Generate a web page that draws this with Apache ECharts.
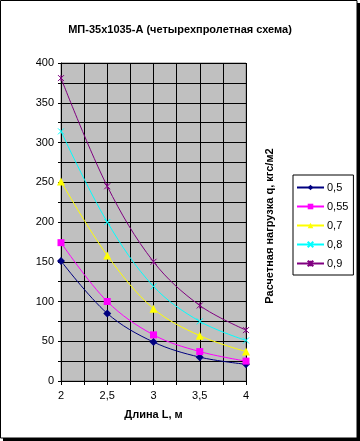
<!DOCTYPE html>
<html>
<head>
<meta charset="utf-8">
<script src="https://cdn.jsdelivr.net/npm/echarts@6/dist/echarts.min.js"></script>
<style>
html,body{margin:0;padding:0;background:#fff;}
#c{width:360px;height:441px;}
</style>
</head>
<body>
<div id="c"></div>
<script>
var titleText = 'МП-35х1035-А (четырехпролетная схема)';
var xTitle = 'Длина L, м';
var yTitle = 'Расчетная нагрузка q, кгс/м2';
var xValues = [2, 2.5, 3, 3.5, 4];
var xTickLabels = ['2', '2,5', '3', '3,5', '4'];
var seriesNames = ['0,5', '0,55', '0,7', '0,8', '0,9'];
var s05 = [151, 85, 49, 30, 21];
var s055 = [174, 100, 58, 37, 25];
var s07 = [251, 158, 91, 57, 37];
var s08 = [314, 200, 119, 75, 51];
var s09 = [381, 245, 150, 95, 64];

var allSeries = [s05, s055, s07, s08, s09];
var colors = ['#000080', '#FF00FF', '#FFFF00', '#00FFFF', '#800080'];
var symbols = ['diamond', 'rect', 'triangle',
  'path://M0,0L10,10M10,0L0,10',
  'path://M0,0L10,10M10,0L0,10M5,0L5,10'];
var symbolSizes = [8, 7, 8, 6, 6];
var FONT = 'Liberation Sans, Arial, sans-serif';

var chart = echarts.init(document.getElementById('c'), null, {renderer: 'canvas'});
var series = allSeries.map(function (vals, i) {
  var isPath = symbols[i].indexOf('path://') === 0;
  return {
    name: seriesNames[i],
    type: 'line',
    smooth: 0.35,
    data: vals.map(function (v, j) { return [xValues[j], v]; }),
    symbol: symbols[i],
    symbolSize: symbolSizes[i],
    showSymbol: true,
    lineStyle: {color: colors[i], width: 1},
    itemStyle: {color: isPath ? 'none' : colors[i], borderColor: colors[i], borderWidth: isPath ? 1 : 0},
    emphasis: {disabled: true},
    animation: false
  };
});

chart.setOption({
  animation: false,
  title: {
    text: titleText, left: 'center', top: 19,
    textStyle: {fontFamily: FONT, fontSize: 11, fontWeight: 'bold', color: '#000'}
  },
  grid: {
    left: 61, right: 114, top: 63, bottom: 60,
    show: true, backgroundColor: '#C0C0C0', borderColor: '#808080', borderWidth: 1
  },
  xAxis: {
    type: 'value', min: 2, max: 4, interval: 0.25,
    name: xTitle, nameLocation: 'middle', nameGap: 28,
    nameTextStyle: {fontFamily: FONT, fontSize: 11, fontWeight: 'bold', color: '#000'},
    axisLine: {show: true, lineStyle: {color: '#000', width: 1}},
    axisTick: {show: true, length: 4, lineStyle: {color: '#000'}},
    axisLabel: {
      fontFamily: FONT, fontSize: 11, color: '#000', margin: 9,
      formatter: function (v) {
        for (var k = 0; k < xValues.length; k++) {
          if (Math.abs(xValues[k] - v) < 1e-6) return xTickLabels[k];
        }
        return '';
      }
    },
    splitLine: {show: true, lineStyle: {color: '#000', width: 1}}
  },
  yAxis: {
    type: 'value', min: 0, max: 400, interval: 25,
    axisLine: {show: true, lineStyle: {color: '#000', width: 1}},
    axisTick: {show: true, length: 3, lineStyle: {color: '#000'}},
    axisLabel: {
      fontFamily: FONT, fontSize: 11, color: '#000', margin: 7,
      formatter: function (v) { return (v % 50 === 0) ? String(v) : ''; }
    },
    splitLine: {show: true, lineStyle: {color: '#000', width: 1}}
  },
  legend: {
    orient: 'vertical', left: 293, top: 175,
    backgroundColor: '#fff', borderColor: '#000', borderWidth: 1,
    padding: [6, 5, 5, 3],
    itemWidth: 27, itemHeight: 7, itemGap: 6,
    textStyle: {fontFamily: FONT, fontSize: 11, color: '#000', padding: [0, 0, 0, -2], lineHeight: 13},
    data: seriesNames
  },
  graphic: [
    {type: 'rect', shape: {x: 0.5, y: 0.5, width: 356.5, height: 437.5}, style: {fill: 'none', stroke: '#000', lineWidth: 1}, silent: true},
    {type: 'rect', shape: {x: 357, y: 3, width: 3, height: 438}, style: {fill: '#000'}, silent: true},
    {type: 'rect', shape: {x: 3, y: 438, width: 357, height: 3}, style: {fill: '#000'}, silent: true},
    {type: 'text', x: 270, y: 226, rotation: Math.PI / 2,
      style: {text: yTitle, fontFamily: FONT, fontSize: 11, fontWeight: 'bold', fill: '#000', align: 'center', verticalAlign: 'middle'}, silent: true}
  ],
  series: series
});
</script>
</body>
</html>
